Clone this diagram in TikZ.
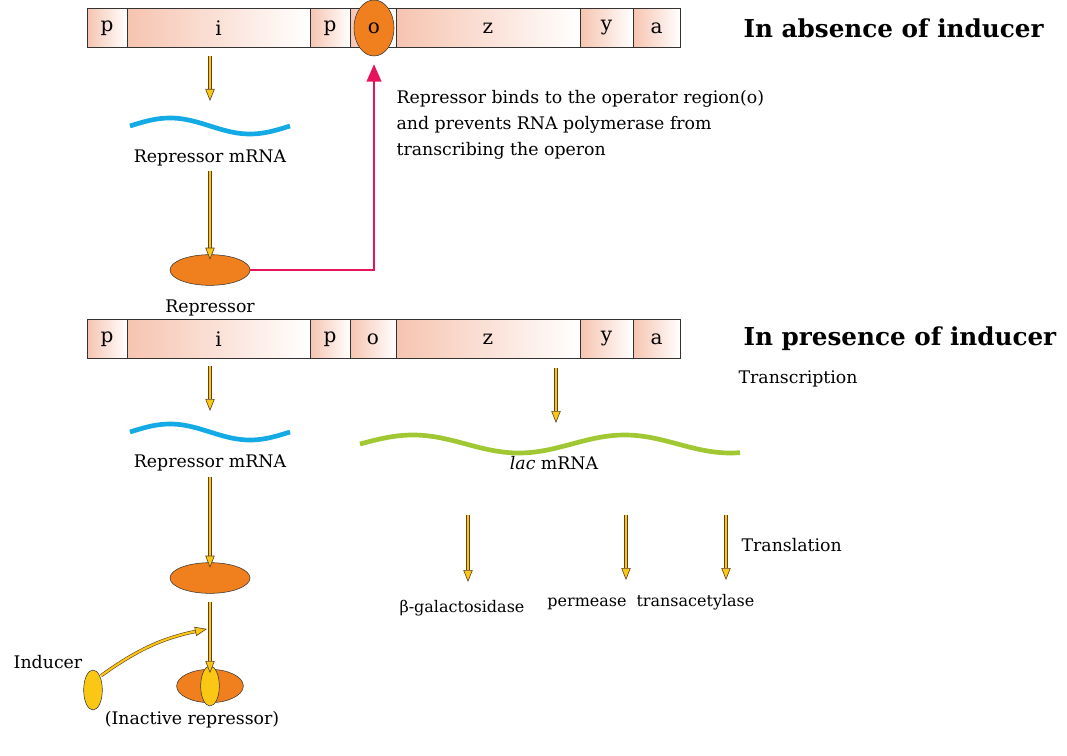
\documentclass[tikz,border=0pt]{standalone}
\usepackage{fontspec}
\setmainfont{DejaVu Serif}
\usetikzlibrary{shapes.geometric,arrows.meta,positioning}
\definecolor{peach}{RGB}{246,196,176}
\definecolor{orep}{RGB}{240,128,30}
\definecolor{yind}{RGB}{250,200,20}
\definecolor{wblue}{RGB}{20,170,230}
\definecolor{wgreen}{RGB}{160,200,50}
\definecolor{rpink}{RGB}{230,20,90}
\tikzset{
  cell/.style = {draw=black!80, line width=0.6pt, left color=peach, right color=white,
    minimum height=29.5pt, inner sep=0pt, font=\fontsize{15pt}{15pt}\selectfont},
  lbl/.style = {font=\fontsize{13pt}{19.5pt}\selectfont, inner sep=1pt},
  enz/.style = {font=\fontsize{12pt}{12pt}\selectfont, inner sep=1pt},
  ttl/.style = {font=\bfseries\fontsize{18.5pt}{18.5pt}\selectfont, inner sep=1pt, anchor=west},
  yarrow/.style = {draw=brown!50!black, double=yind, double distance=1.6pt, line width=0.45pt,
    -{Triangle[length=9pt,width=7pt,fill=yind]}},
  prot/.style = {ellipse, draw=black!80, fill=orep, minimum width=60pt, minimum height=23pt, inner sep=0pt},
  ind/.style = {ellipse, draw=black!80, fill=yind, minimum width=14pt, minimum height=30pt, inner sep=0pt}
}
\begin{document}
\begin{tikzpicture}[x=0.75pt,y=-0.75pt]
\useasboundingbox (0,0) rectangle (1067,756);
\fill[white] (0,0) rectangle (1067,756);

% operon, absent inducer
\foreach \nm/\xa/\xb/\txt in {p1/87/127/p, i1/127/310/i, q1/310/350/p, o1/350/396/o, z1/396/580/z, y1/580/633/y, a1/633/680/a}
  \node[cell, minimum width=(\xb-\xa)*0.75pt] (\nm) at ({(\xa+\xb)/2},28) {\txt};
\node[ellipse, draw=black!80, fill=orep, minimum width=30pt, minimum height=42pt, inner sep=0pt, font=\fontsize{15pt}{15pt}\selectfont] (op) at (374,28) {o};
\node[ttl] (t1) at (742,28) {In absence of inducer};

\coordinate (s1) at (210,56);
\coordinate (e1) at (210,101);
\draw[wblue, line width=3.5pt] plot[domain=130:290, samples=60, smooth] (\x,{126-8*sin((\x-130)*2.25)});
\node[lbl] (rm1) at (210,158) {Repressor mRNA};
\node[prot] (r1) at (210,270) {};
\node[lbl] (rl1) at (210,308) {Repressor};
\coordinate (k1) at (374,270);
\node[lbl, anchor=north west, align=left] (txt1) at (395,89) {Repressor binds to the operator region(o)\\and prevents RNA polymerase from\\transcribing the operon};

\draw[yarrow] (s1) -- (e1);
\draw[yarrow] (210,171) -- ([yshift=-4pt]r1.north);
\draw[rpink, line width=1.5pt, -{Triangle[length=13pt,width=11pt]}] (r1.east) -- (k1) -- ([yshift=-6pt]op.south);

% operon, present inducer
\foreach \nm/\xa/\xb/\txt in {p2/87/127/p, i2/127/310/i, q2/310/350/p, o2/350/396/o, z2/396/580/z, y2/580/633/y, a2/633/680/a}
  \node[cell, minimum width=(\xb-\xa)*0.75pt] (\nm) at ({(\xa+\xb)/2},339) {\txt};
\node[ttl] (t2) at (742,339) {In presence of inducer};

\coordinate (s2) at (210,366);
\coordinate (e2) at (210,411);
\coordinate (s3) at (556,368);
\coordinate (e3) at (556,423);
\draw[wblue, line width=3.5pt] plot[domain=130:290, samples=60, smooth] (\x,{432-8*sin((\x-130)*2.25)});
\draw[wgreen, line width=3.5pt] plot[domain=360:740, samples=120, smooth] (\x,{444-9*sin((\x-360)*1.7)});
\node[lbl] (rm2) at (210,463) {Repressor mRNA};
\node[lbl] (lac) at (554,463) {\textit{lac} mRNA};
\node[lbl, anchor=west] (trc) at (737,379) {Transcription};
\node[prot] (r2) at (210,578) {};
\node[lbl] (ina) at (192,720) {(Inactive repressor)};
\node[prot, minimum width=50pt, minimum height=25pt] (r3) at (210,686) {};
\node[ind] (ib) at (210,686) {};
\node[ind] (ifree) at (93,690) {};
\node[lbl] (indl) at (48,662) {Inducer};
\coordinate (hit) at (207,629);

\draw[yarrow] (s2) -- (e2);
\draw[yarrow] (s3) -- (e3);
\draw[yarrow] (210,477) -- ([yshift=-4pt]r2.north);
\draw[yarrow] ([yshift=-6pt]r2.south) -- ([yshift=-3pt]r3.north);
\draw[yarrow] ([xshift=1pt]ifree.north east) to[bend left=12] (hit);

\node[enz, anchor=base] (bg) at (462,612) {β-galactosidase};
\node[enz, anchor=base east] (ta) at (756,606) {transacetylase};
\node[enz, anchor=base east] (pm) at ([xshift=-5pt]ta.base west) {permease};
\node[lbl, anchor=west] (tl) at (740,545) {Translation};
\coordinate (u1) at (468,515);
\coordinate (u2) at (626,515);
\coordinate (u3) at (726,515);
\draw[yarrow] (u1) -- (468,582);
\draw[yarrow] (u2) -- (626,580);
\draw[yarrow] (u3) -- (726,580);
\end{tikzpicture}
\end{document}
